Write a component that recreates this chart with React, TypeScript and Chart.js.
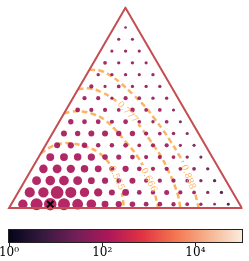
import React, { useEffect, useRef } from 'react';
import { Chart, registerables } from 'chart.js';
Chart.register(...registerables);

// ---------- data ----------
// size quantity (counts) per grid row, bottom row first
const rowCounts: number[][] = [
  [71, 121, 130, 121, 96, 74, 36, 29, 23, 16, 16, 13, 9, 7, 4, 5],
  [85, 88, 135, 100, 71, 55, 27, 36, 16, 13, 18, 12, 9, 7, 7],
  [64, 74, 77, 64, 36, 29, 16, 27, 12, 12, 12, 9, 7, 7],
  [58, 64, 55, 44, 36, 19, 29, 16, 12, 12, 9, 9, 7],
  [49, 49, 44, 41, 23, 19, 16, 12, 12, 9, 7, 6],
  [27, 29, 23, 14, 14, 16, 9, 12, 12, 6, 6],
  [27, 21, 27, 27, 21, 21, 12, 9, 8, 6],
  [21, 16, 16, 12, 16, 9, 7, 9, 6],
  [16, 12, 12, 9, 16, 9, 9, 6],
  [12, 12, 6, 12, 9, 7, 7],
  [12, 6, 9, 7, 7, 7],
  [7, 7, 7, 6, 7],
  [9, 7, 7, 6],
  [6, 7, 6],
  [6, 6],
  [4],
];
// colour quantity per grid row (colour bar, log scale)
const rowValues: number[][] = [
  [141, 141, 141, 141, 141, 141, 126, 112, 112, 89, 89, 89, 89, 71, 40, 6],
  [141, 141, 141, 141, 141, 126, 112, 126, 89, 89, 112, 89, 89, 40, 8],
  [141, 141, 141, 141, 126, 112, 89, 112, 89, 89, 89, 89, 40, 11],
  [126, 141, 126, 126, 126, 112, 112, 89, 89, 89, 89, 40, 16],
  [126, 126, 126, 126, 112, 112, 89, 89, 89, 89, 45, 20],
  [112, 112, 112, 89, 89, 112, 89, 89, 89, 71, 28],
  [112, 112, 112, 112, 112, 112, 89, 89, 71, 35],
  [112, 112, 112, 89, 112, 89, 71, 89, 45],
  [112, 89, 89, 89, 112, 89, 89, 50],
  [89, 89, 71, 89, 89, 71, 56],
  [89, 71, 89, 71, 71, 63],
  [71, 71, 71, 71, 71],
  [89, 71, 71, 71],
  [71, 71, 71],
  [71, 71],
  [71],
];
// ternary grid: composition = offset + index / divisions
const GRID_DIVISIONS = 17;
const GRID_OFFSET_B = 0.05;
const GRID_OFFSET_C = 0.0188;
const bestPoint = { row: 0, col: 2 };

// contour lines (cartesian ternary coords)
const contourLevels = ['0.555', '0.666', '0.777', '0.888'];
const contour555 = [[0.1364, 0.2362], [0.1804, 0.2647], [0.2252, 0.2789], [0.274, 0.2789], [0.3311, 0.2647], [0.384, 0.2402], [0.4288, 0.1955], [0.4614, 0.1384], [0.4817, 0.0774], [0.4939, 0]];
const contour666 = [[0.2362, 0.4092], [0.274, 0.4174], [0.3148, 0.4174], [0.3636, 0.4052], [0.4084, 0.3828], [0.4532, 0.342], [0.5021, 0.285], [0.5509, 0.224], [0.5896, 0.1547], [0.6202, 0.0814], [0.6405, 0]];
const contour777 = [[0.296, 0.5131], [0.3473, 0.5171], [0.3962, 0.5009], [0.441, 0.4764], [0.4776, 0.4479], [0.5102, 0.4153], [0.5387, 0.3828], [0.5713, 0.342], [0.5998, 0.3013], [0.6283, 0.2606], [0.6568, 0.2158], [0.6853, 0.1588], [0.7097, 0.1018], [0.726, 0.0529], [0.7362, 0]];
const contour888 = [[0.3457, 0.5986], [0.3962, 0.5925], [0.441, 0.5701], [0.4776, 0.5416], [0.5306, 0.4927], [0.5835, 0.4398], [0.6242, 0.3868], [0.6609, 0.338], [0.6934, 0.2891], [0.726, 0.2362], [0.7545, 0.1832], [0.7749, 0.1303], [0.7952, 0.0774], [0.8144, 0]];
const contourLabelAt = [[0.4634, 0.1303], [0.6018, 0.1222], [0.5102, 0.4153], [0.7708, 0.1344]];

// colour bar
const CB_MIN = 1;
const CB_MAX = 100000;
const CB_TICKS = [1, 100, 10000];

// ---------- helpers ----------
const SQ3_2 = Math.sqrt(3) / 2;
const ROCKET: [number, string][] = [
  [0, '#03051a'], [1 / 7, '#35193e'], [2 / 7, '#701f57'], [3 / 7, '#ad1759'],
  [4 / 7, '#e13342'], [5 / 7, '#f37651'], [6 / 7, '#f6b48f'], [1, '#faebdd'],
];
function hex(h: string) {
  return [parseInt(h.slice(1, 3), 16), parseInt(h.slice(3, 5), 16), parseInt(h.slice(5, 7), 16)];
}
function rocket(t: number, a = 1) {
  t = Math.max(0, Math.min(1, t));
  for (let i = 0; i < ROCKET.length - 1; i++) {
    const [t0, c0] = ROCKET[i];
    const [t1, c1] = ROCKET[i + 1];
    if (t <= t1) {
      const f = (t - t0) / (t1 - t0);
      const A = hex(c0), B = hex(c1);
      const c = A.map((v, j) => Math.round(v + (B[j] - v) * f));
      return `rgba(${c[0]},${c[1]},${c[2]},${a})`;
    }
  }
  return ROCKET[ROCKET.length - 1][1];
}
const logT = (v: number) => Math.log10(v / CB_MIN) / Math.log10(CB_MAX / CB_MIN);
function toXY(row: number, col: number) {
  const b = GRID_OFFSET_B + col / GRID_DIVISIONS;
  const c = GRID_OFFSET_C + row / GRID_DIVISIONS;
  return { x: b + c / 2, y: c * SQ3_2 };
}
const SUP: Record<string, string> = { '0': '⁰', '1': '¹', '2': '²', '3': '³', '4': '⁴', '5': '⁵', '6': '⁶', '7': '⁷', '8': '⁸', '9': '⁹' };

const SERIF = "'DejaVu Serif', 'Liberation Serif', serif";
const CONTOUR_COLOR = '#fdb462';
const FRAME_COLOR = '#c44e52';

export default function App() {
  const mainRef = useRef<HTMLCanvasElement>(null);
  const cbRef = useRef<HTMLCanvasElement>(null);

  useEffect(() => {
    if (!mainRef.current || !cbRef.current) return;
    const points: any[] = [];
    rowCounts.forEach((row, r) =>
      row.forEach((count, k) => {
        points.push({ ...toXY(r, k), count, value: rowValues[r][k] });
      })
    );
    const contours = [contour555, contour666, contour777, contour888];
    const CONTOUR_START = 3;
    const labelFont = `9px ${SERIF}`;

    const labelGeom = (chart: any, i: number) => {
      const xs = chart.scales.x, ys = chart.scales.y;
      const [lx, ly] = contourLabelAt[i];
      const px = xs.getPixelForValue(lx), py = ys.getPixelForValue(ly);
      const pts = contours[i].map(([x, y]) => [xs.getPixelForValue(x), ys.getPixelForValue(y)]);
      let best = 0, bd = Infinity;
      pts.forEach((p, j) => {
        const d = (p[0] - px) ** 2 + (p[1] - py) ** 2;
        if (d < bd) { bd = d; best = j; }
      });
      const a = pts[Math.max(0, best - 1)], b = pts[Math.min(pts.length - 1, best + 1)];
      let ang = Math.atan2(b[1] - a[1], b[0] - a[0]);
      if (ang > Math.PI / 2) ang -= Math.PI;
      if (ang < -Math.PI / 2) ang += Math.PI;
      return { px, py, ang };
    };

    const labelPlugin = {
      id: 'contourLabels',
      afterDatasetDraw(chart: any, args: any) {
        const i = args.index - CONTOUR_START;
        if (i < 0 || i >= contours.length) return;
        const ctx = chart.ctx;
        const { px, py, ang } = labelGeom(chart, i);
        ctx.save();
        ctx.font = labelFont;
        const w = ctx.measureText(contourLevels[i]).width + 6;
        ctx.translate(px, py);
        ctx.rotate(ang);
        ctx.clearRect(-w / 2, -4, w, 8);
        ctx.restore();
      },
      afterDatasetsDraw(chart: any) {
        const ctx = chart.ctx;
        contours.forEach((_, i) => {
          const { px, py, ang } = labelGeom(chart, i);
          ctx.save();
          ctx.font = labelFont;
          ctx.fillStyle = CONTOUR_COLOR;
          ctx.textAlign = 'center';
          ctx.textBaseline = 'middle';
          ctx.translate(px, py);
          ctx.rotate(ang);
          ctx.fillText(contourLevels[i], 0, 0.5);
          ctx.restore();
        });
      },
    };

    const best = toXY(bestPoint.row, bestPoint.col);
    const c1 = new Chart(mainRef.current, {
      type: 'scatter',
      data: {
        datasets: [
          {
            data: [best],
            pointStyle: 'crossRot',
            pointRadius: 4.5,
            borderColor: '#000',
            borderWidth: 2,
            backgroundColor: '#000',
          } as any,
          {
            data: [{ x: 0, y: 0 }, { x: 1, y: 0 }, { x: 0.5, y: SQ3_2 }, { x: 0, y: 0 }, { x: 1, y: 0 }],
            showLine: true,
            borderColor: FRAME_COLOR,
            borderWidth: 2,
            borderJoinStyle: 'miter',
            pointRadius: 0,
            fill: false,
          } as any,
          {
            data: points,
            pointRadius: (c: any) => Math.sqrt(c.raw.count) * 0.52 + 0.3,
            backgroundColor: (c: any) => rocket(logT(c.raw.value), 0.92),
            borderWidth: 0,
            pointBorderWidth: 0,
          } as any,
          ...contours.map((ct) => ({
            data: ct.map(([x, y]) => ({ x, y })),
            showLine: true,
            borderColor: CONTOUR_COLOR,
            borderWidth: 2.5,
            borderDash: [5.5, 3.5],
            tension: 0.4,
            pointRadius: 0,
            fill: false,
          } as any)),
        ],
      },
      options: {
        responsive: false,
        animation: false,
        devicePixelRatio: 1,
        layout: { padding: 0 },
        plugins: { legend: { display: false }, tooltip: { enabled: false } },
        scales: {
          x: { type: 'linear', min: -0.011, max: 1.00285, display: false },
          y: { type: 'linear', min: -0.03257, max: 0.87134, display: false },
        },
      },
      plugins: [labelPlugin],
    });

    const gradientPlugin = {
      id: 'cbGradient',
      beforeDatasetsDraw(chart: any) {
        const { ctx, chartArea: a } = chart;
        const g = ctx.createLinearGradient(a.left, 0, a.right, 0);
        ROCKET.forEach(([t, c]) => g.addColorStop(t, c));
        ctx.save();
        ctx.fillStyle = g;
        ctx.fillRect(a.left, a.top, a.right - a.left, a.bottom - a.top);
        ctx.strokeStyle = '#222';
        ctx.lineWidth = 1;
        ctx.strokeRect(a.left - 0.5, a.top - 0.5, a.right - a.left + 1, a.bottom - a.top + 1);
        ctx.restore();
      },
    };

    const c2 = new Chart(cbRef.current, {
      type: 'scatter',
      data: { datasets: [] },
      options: {
        responsive: false,
        animation: false,
        devicePixelRatio: 1,
        layout: { padding: { left: 9, right: 7, top: 8, bottom: 0 } },
        plugins: { legend: { display: false }, tooltip: { enabled: false } },
        scales: {
          x: {
            type: 'logarithmic',
            min: CB_MIN,
            max: CB_MAX,
            position: 'bottom',
            afterBuildTicks: (s: any) => { s.ticks = CB_TICKS.map((v) => ({ value: v })); },
            afterFit: (s: any) => { s.height = 19; s.paddingLeft = 0; s.paddingRight = 0; },
            grid: { display: true, drawOnChartArea: false, drawTicks: true, tickLength: 4, color: '#222', lineWidth: 1 },
            border: { display: false },
            ticks: {
              autoSkip: false,
              maxRotation: 0,
              padding: 0,
              color: '#000',
              font: { family: SERIF, size: 12 },
              callback: (v: any) => '10' + String(Math.round(Math.log10(Number(v)))).split('').map((d) => SUP[d]).join(''),
            },
          },
          y: { display: false, min: 0, max: 1 },
        },
      },
      plugins: [gradientPlugin],
    });

    return () => { c1.destroy(); c2.destroy(); };
  }, []);

  return (
    <div style={{ position: 'absolute', left: 0, top: 0, width: 249, height: 261, background: '#fff' }}>
      <canvas ref={mainRef} width={249} height={222} style={{ display: 'block' }} />
      <canvas ref={cbRef} width={249} height={39} style={{ display: 'block' }} />
    </div>
  );
}
